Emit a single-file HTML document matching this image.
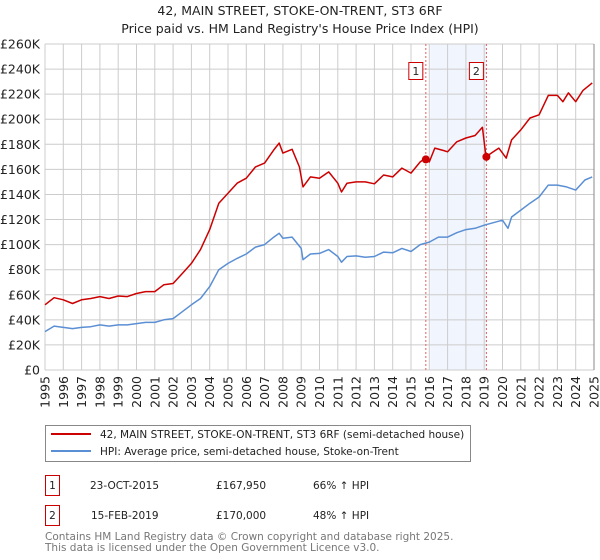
<!DOCTYPE html>
<html><head><meta charset="utf-8"><style>
body{margin:0;background:#fff;font-family:"DejaVu Sans","Liberation Sans",sans-serif;}
svg{display:block}
</style></head><body>
<svg id="c" width="600" height="560" xmlns="http://www.w3.org/2000/svg" font-family="DejaVu Sans, Liberation Sans, sans-serif">
<text x="300" y="15" text-anchor="middle" font-size="12.5" fill="#222">42, MAIN STREET, STOKE-ON-TRENT, ST3 6RF</text>
<text x="300" y="33" text-anchor="middle" font-size="12.5" fill="#222">Price paid vs. HM Land Registry's House Price Index (HPI)</text>
<g id="plot"></g>
<g>
<rect x="45.5" y="425.5" width="425" height="36" fill="#fff" stroke="#888"/>
<line x1="51" y1="434" x2="91" y2="434" stroke="#cc0000" stroke-width="2"/>
<text x="100" y="438" font-size="10.5" fill="#222">42, MAIN STREET, STOKE-ON-TRENT, ST3 6RF (semi-detached house)</text>
<line x1="51" y1="451" x2="91" y2="451" stroke="#5b8fd4" stroke-width="2"/>
<text x="100" y="455" font-size="10.5" fill="#222">HPI: Average price, semi-detached house, Stoke-on-Trent</text>
</g>
<g font-size="10.5" fill="#222">
<rect x="45.5" y="475.5" width="14" height="20" fill="#fff" stroke="#cc0000"/>
<text x="52.5" y="489" text-anchor="middle">1</text>
<text x="90" y="489">23-OCT-2015</text>
<text x="216" y="489">£167,950</text>
<text x="313" y="489">66% ↑ HPI</text>
<rect x="45.5" y="505.5" width="14" height="20" fill="#fff" stroke="#cc0000"/>
<text x="52.5" y="519" text-anchor="middle">2</text>
<text x="91" y="519">15-FEB-2019</text>
<text x="216" y="519">£170,000</text>
<text x="313" y="519">48% ↑ HPI</text>
</g>
<text x="45" y="540" font-size="10.5" fill="#777">Contains HM Land Registry data © Crown copyright and database right 2025.</text>
<text x="45" y="551" font-size="10.5" fill="#777">This data is licensed under the Open Government Licence v3.0.</text>
</svg>
<script>
const hpiYears=[1995,1995.5,1996,1996.5,1997,1997.5,1998,1998.5,1999,1999.5,2000,2000.5,2001,2001.5,2002,2002.5,2003,2003.5,2004,2004.5,2005,2005.5,2006,2006.5,2007,2007.5,2007.8,2008,2008.5,2009,2009.1,2009.5,2010,2010.5,2011,2011.2,2011.5,2012,2012.5,2013,2013.5,2014,2014.5,2015,2015.5,2016,2016.5,2017,2017.5,2018,2018.5,2019,2019.5,2020,2020.3,2020.5,2021,2021.5,2022,2022.5,2023,2023.5,2024,2024.5,2024.9];
const hpiValues=[30.6,35,34,33,34,34.5,36,35,36,36,37,38,38,40,41,46.5,52,57,66.5,80,85,89,92.5,98,100,106,109,105,106,97,88,92.5,93,96,90.5,86,90.5,91,90,90.5,94,93.5,97,94.5,100,102,106,106,109.5,112,113,115.5,117.5,119.5,113,122,127.5,133,138,147.5,147.5,146,143.5,151.5,154];
const priceYears=[1995,1995.5,1996,1996.5,1997,1997.5,1998,1998.5,1999,1999.5,2000,2000.5,2001,2001.5,2002,2002.5,2003,2003.5,2004,2004.5,2005,2005.5,2006,2006.5,2007,2007.5,2007.8,2008,2008.5,2008.9,2009.1,2009.5,2010,2010.5,2011,2011.2,2011.5,2012,2012.5,2013,2013.5,2014,2014.5,2015,2015.5,2015.8,2016,2016.3,2016.8,2017,2017.5,2018,2018.5,2018.9,2019.1,2019.5,2019.8,2020.2,2020.5,2021,2021.5,2022,2022.5,2023,2023.3,2023.6,2024,2024.4,2024.9];
const priceValues=[52,57.7,56,53,56,57,58.5,57,59,58.5,61,62.5,62.5,68,69,77,85,96,112,133,141,149,153,162,165,175.5,181,173,176,162,146,154,153,158,149,142,149,150,150,148.5,155.5,154,161,157,166,169,166,177,175,174,182,185,187,193.6,170,174,177,169,183.5,191.5,201,203.5,219,219,214,221,214,223,229];
const saleYears=[2015.81,2019.12];
const saleValues=[167.95,170];
const saleLabels=["1","2"];
const yTicks=[0,20,40,60,80,100,120,140,160,180,200,220,240,260];
const xTicks=[1995,1996,1997,1998,1999,2000,2001,2002,2003,2004,2005,2006,2007,2008,2009,2010,2011,2012,2013,2014,2015,2016,2017,2018,2019,2020,2021,2022,2023,2024,2025];
const X0=45,X1=594,Y0=370,Y1=44;
const xs=y=>X0+(y-1995)/30*(X1-X0);
const ys=v=>Y0-v/260*(Y0-Y1);
const NS="http://www.w3.org/2000/svg";
const g=document.getElementById('plot');
function mk(t,a){const e=document.createElementNS(NS,t);for(const k in a)e.setAttribute(k,a[k]);g.appendChild(e);return e;}
let sh=mk('rect',{x:xs(2016.05),y:Y1,width:xs(saleYears[1])-xs(2016.05),height:Y0-Y1,fill:'#eef3fc',opacity:0.8});


yTicks.forEach(v=>{
 const l=mk('line',{x1:X0,x2:X1,y1:ys(v),y2:ys(v),stroke:'#cccccc','stroke-width':1});
 
 
 const t=mk('text',{x:40,y:ys(v)+4.5,'text-anchor':'end','font-size':12.5,fill:'#222'});
 t.textContent=v===0?'£0':'£'+v+'K';
 
 
});
xTicks.forEach(yr=>{
 const l=mk('line',{x1:xs(yr),x2:xs(yr),y1:Y1,y2:Y0,stroke:'#cccccc','stroke-width':1});
 
 
 const t=mk('text',{x:0,y:0,'text-anchor':'end','font-size':12.5,fill:'#222',transform:`translate(${xs(yr)+4.5},376) rotate(-90)`});
 t.textContent=yr;
 
 
});
const ax=mk('line',{x1:X1,x2:X1,y1:Y1,y2:Y0,stroke:'#888','stroke-width':1});


saleYears.forEach((yr,i)=>{
 const l=mk('line',{x1:xs(yr),x2:xs(yr),y1:Y1,y2:Y0,stroke:'#e06060','stroke-width':1,'stroke-dasharray':'2,2'});
 
 
 const r=mk('rect',{x:xs(yr)-17,y:62.5,width:14,height:17,fill:'#fff',stroke:'#cc0000'});
 
 
 const t=mk('text',{x:xs(yr)-10,y:75,'text-anchor':'middle','font-size':11,fill:'#222'});
 t.textContent=saleLabels[i];
 
 
});
function path(xa,va,col,name){
 const d=xa.map((x,i)=>(i?'L':'M')+xs(x).toFixed(1)+','+ys(va[i]).toFixed(1)).join('');
 const p=mk('path',{d:d,fill:'none',stroke:col,'stroke-width':1.5,'stroke-linejoin':'round'});
 
 
}
path(hpiYears,hpiValues,'#5b8fd4','hpi-line');
path(priceYears,priceValues,'#cc0000','price-line');
saleYears.forEach((yr,i)=>{
 const c=mk('circle',{cx:xs(yr),cy:ys(saleValues[i]),r:4,fill:'#cc0000'});
 
 
});
</script>
</body></html>
